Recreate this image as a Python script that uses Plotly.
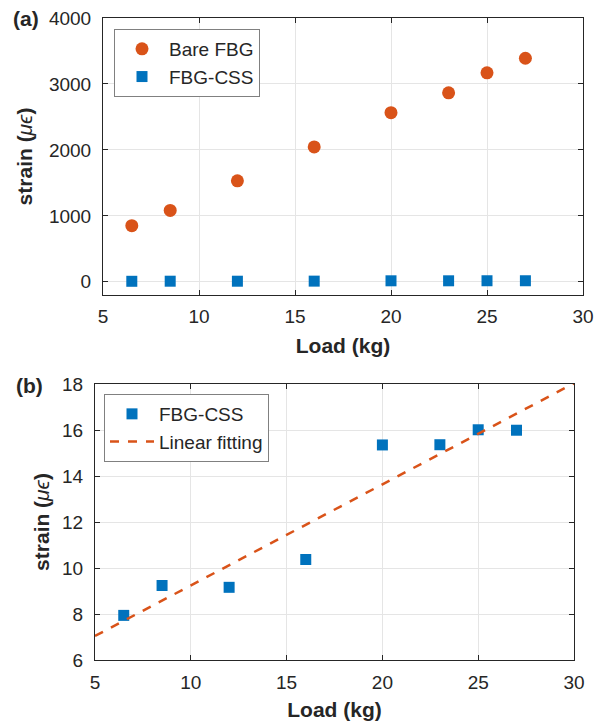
import numpy as np
import plotly.graph_objects as go

load_kg = [6.5, 8.5, 12, 16, 20, 23, 25, 27]
bare_fbg = [851, 1083, 1531, 2045, 2564, 2866, 3169, 3390]
fbg_css = [7.94, 9.24, 9.16, 10.37, 15.35, 15.36, 16.01, 15.99]
fit_x = [5, 30]

slope, intercept = np.polyfit(load_kg, fbg_css, 1)
fit_y = [slope * x + intercept for x in fit_x]

ORANGE = "#D95319"
BLUE = "#0072BD"
FONT = "Liberation Sans, Arial, sans-serif"
INK = "#262626"

fig = go.Figure()
fig.add_trace(go.Scatter(x=load_kg, y=bare_fbg, mode="markers", name="Bare FBG",
                         marker=dict(symbol="circle", size=13, color=ORANGE),
                         xaxis="x", yaxis="y", legend="legend"))
fig.add_trace(go.Scatter(x=load_kg, y=fbg_css, mode="markers", name="FBG-CSS",
                         marker=dict(symbol="square", size=11, color=BLUE),
                         xaxis="x", yaxis="y", legend="legend"))
fig.add_trace(go.Scatter(x=load_kg, y=fbg_css, mode="markers", name="FBG-CSS",
                         marker=dict(symbol="square", size=11, color=BLUE),
                         xaxis="x2", yaxis="y2", legend="legend2"))
fig.add_trace(go.Scatter(x=fit_x, y=fit_y, mode="lines", name="Linear fitting",
                         line=dict(color=ORANGE, width=2.5, dash="dash"),
                         xaxis="x2", yaxis="y2", legend="legend2"))

axcommon = dict(showline=True, linecolor=INK, linewidth=1, mirror="ticks",
                ticks="inside", ticklen=5, tickcolor=INK, showgrid=True,
                gridcolor="#e5e5e5", gridwidth=1, zeroline=False,
                tickfont=dict(family=FONT, size=19, color=INK), automargin=False)

title_font = dict(family=FONT, size=21, color=INK)
ytitle = "<b>strain (</b><i>μϵ</i><b>)</b>"

legend_common = dict(xanchor="left", yanchor="top", bordercolor="#808080",
                     borderwidth=1, bgcolor="white", itemwidth=44,
                     font=dict(family=FONT, size=19, color=INK), tracegroupgap=0)

fig.update_layout(
    width=603, height=727, margin=dict(l=0, r=0, t=0, b=0),
    paper_bgcolor="white", plot_bgcolor="white",
    font=dict(family=FONT, color=INK),
    xaxis=dict(domain=[103/603, 583/603], range=[5, 30], dtick=5, anchor="y",
               ticklabelstandoff=4,
               title=dict(text="<b>Load (kg)</b>", font=title_font, standoff=12), **axcommon),
    yaxis=dict(domain=[1-295/727, 1-18/727], range=[-200, 4000], dtick=1000, anchor="x",
               ticklabelstandoff=7,
               title=dict(text=ytitle, font=title_font, standoff=10), **axcommon),
    xaxis2=dict(domain=[95/603, 574/603], range=[5, 30], dtick=5, anchor="y2",
                ticklabelstandoff=5,
                title=dict(text="<b>Load (kg)</b>", font=title_font, standoff=10), **axcommon),
    yaxis2=dict(domain=[1-660/727, 1-384/727], range=[6, 18], dtick=2, anchor="x2",
                ticklabelstandoff=7,
                title=dict(text=ytitle, font=title_font, standoff=6), **axcommon),
    legend=dict(x=114/603, y=1-29/727, **legend_common),
    legend2=dict(x=104/603, y=1-394/727, **legend_common),
    showlegend=True,
    annotations=[
        dict(text="<b>(a)</b>", x=11/603, y=1-18/727, xref="paper", yref="paper",
             xanchor="left", yanchor="middle", showarrow=False,
             font=dict(family=FONT, size=21, color=INK)),
        dict(text="<b>(b)</b>", x=14/603, y=1-385/727, xref="paper", yref="paper",
             xanchor="left", yanchor="middle", showarrow=False,
             font=dict(family=FONT, size=21, color=INK)),
    ],
)

fig.write_html("out.html")
